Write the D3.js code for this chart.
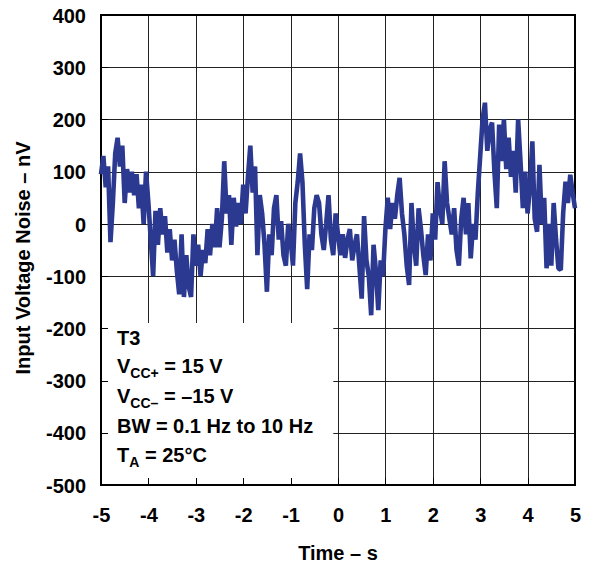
<!DOCTYPE html>
<html>
<head>
<meta charset="utf-8">
<script src="https://cdn.jsdelivr.net/npm/d3@7"></script>
<style>
  body { margin: 0; background: #fff; }
  svg text { font-family: "Liberation Sans", Arial, Helvetica, sans-serif; font-weight: bold; fill: #000; }
</style>
</head>
<body>
<svg id="chart" width="592" height="567"></svg>
<script>
const noiseValues = [
  95, 130, 70, 110, -35, 40, 135, 165, 110, 150, 40, 105, 60, 100, 55, 95, 30, 75, 0, 100,
  40, -30, -100, 25, -40, 30, -20, 15, -55, -10, -70, -30, -90, -135,
  -20, -140, -60, -120, -140, -20, -80, -40, -100, -50, -75, -10, -60, 0, -45, 30, -45, 10,
  120, 20, 55, -40, 50, -5, 40, 0, 75, 20, 90, 150, 60, 110, -60, 55,
  20, -40, -130, -20, -60, 30, 55, -30, 5, -60, -80, 0, -30, -80, 40, 80, 135, 80, -40,
  -125, -20, -50, 30, 55, 40, -20, -50, 0, 55, -30, -60, 20, -20,
  -60, -20, -65, -30, -10, -70, -40, -20, -80, -143, 15, -70, -100, -175, -40, -90, -165,
  -70, -100, -10, 50, -10, 40, 10, 55, 88, 20, -20, -80, -117, 40, -40, -80, 30,
  -10, -60, -98, -20, -70, 20, -30, 80, 30, 0, 120, 40, 10, -20, 30, -50, -80, 10, 50,
  -20, 40, -66, 0, -30, 60, 130, 200, 232, 140, 180, 194, 100, 30,
  190, 120, 200, 105, 165, 90, 140, 60, 200, 120, 30, 100, 20, 70, 158, 10, -15, 113, 0,
  50, -85, 0, -80, 40, -30, -85, -88, 20, 81, 40, 94, 60, 30
];
const sampleStep = 0.05;
const xTicks = [-5, -4, -3, -2, -1, 0, 1, 2, 3, 4, 5];
const yTicks = [-500, -400, -300, -200, -100, 0, 100, 200, 300, 400];
const legendLines = [
  { main: "T3", sub: "", rest: "" },
  { main: "V", sub: "CC+", rest: " = 15 V" },
  { main: "V", sub: "CC\u2013", rest: " = \u201315 V" },
  { main: "BW = 0.1 Hz to 10 Hz", sub: "", rest: "" },
  { main: "T", sub: "A", rest: " = 25\u00B0C" }
];

const svg = d3.select("#chart");
const plotL = 101, plotR = 575, plotT = 15, plotB = 485;
const x = d3.scaleLinear().domain([-5, 5]).range([plotL, plotR]);
const y = d3.scaleLinear().domain([-500, 400]).range([plotB, plotT]);
const noise = noiseValues.map((v, i) => ({ t: -5 + i * sampleStep, v }));

// grid
const grid = svg.append("g").attr("stroke", "#222").attr("stroke-width", 1).attr("shape-rendering", "crispEdges");
grid.selectAll(".gx").data(xTicks).join("line")
  .attr("x1", d => Math.round(x(d)) + 0.5).attr("x2", d => Math.round(x(d)) + 0.5)
  .attr("y1", plotT).attr("y2", plotB);
grid.selectAll(".gy").data(yTicks).join("line")
  .attr("x1", plotL).attr("x2", plotR)
  .attr("y1", d => Math.round(y(d)) + 0.5).attr("y2", d => Math.round(y(d)) + 0.5);

// legend box blanks the grid
svg.append("rect")
  .attr("x", plotL + 1).attr("y", 323)
  .attr("width", x(-0.1) - plotL - 1).attr("height", plotB - 323 - 1)
  .attr("fill", "#fff");

// inner ticks
const ticks = svg.append("g").attr("stroke", "#000").attr("stroke-width", 1).attr("shape-rendering", "crispEdges");
ticks.selectAll(".tx").data(xTicks).join("line")
  .attr("x1", d => Math.round(x(d)) + 0.5).attr("x2", d => Math.round(x(d)) + 0.5)
  .attr("y1", plotB - 7).attr("y2", plotB);
ticks.selectAll(".ty").data(yTicks).join("line")
  .attr("x1", plotL).attr("x2", plotL + 7)
  .attr("y1", d => Math.round(y(d)) + 0.5).attr("y2", d => Math.round(y(d)) + 0.5);

// frame
svg.append("rect")
  .attr("x", plotL).attr("y", plotT).attr("width", plotR - plotL).attr("height", plotB - plotT)
  .attr("fill", "none").attr("stroke", "#000").attr("stroke-width", 2);

// trace
svg.append("path").datum(noise)
  .attr("fill", "none").attr("stroke", "#2b3990").attr("stroke-width", 4.6)
  .attr("stroke-linejoin", "bevel")
  .attr("d", d3.line().x(d => x(d.t)).y(d => y(d.v)));

// axis labels
const yAxis = svg.append("g").attr("transform", `translate(${plotL},0)`)
  .call(d3.axisLeft(y).tickValues(yTicks).tickSize(0).tickPadding(15).tickFormat(d => String(d)));
yAxis.select(".domain").remove();
yAxis.selectAll("text").attr("font-size", 20).attr("dy", "0.36em");

const xAxis = svg.append("g").attr("transform", `translate(0,${plotB})`)
  .call(d3.axisBottom(x).tickValues(xTicks).tickSize(0).tickPadding(23).tickFormat(d => String(d)));
xAxis.select(".domain").remove();
xAxis.selectAll("text").attr("font-size", 20).attr("dy", "0.71em");

svg.append("text").attr("x", (plotL + plotR) / 2).attr("y", 560)
  .attr("text-anchor", "middle").attr("font-size", 20).text("Time \u2013 s");
svg.append("text").attr("transform", "translate(30,258) rotate(-90)")
  .attr("text-anchor", "middle").attr("font-size", 20).text("Input Voltage Noise \u2013 nV");

// legend
const legendY = [345, 373, 403, 433, 462];
const legend = svg.append("g");
legendLines.forEach((l, i) => {
  const t = legend.append("text").attr("x", 117).attr("y", legendY[i]).attr("font-size", 20);
  t.append("tspan").text(l.main);
  if (l.sub) {
    t.append("tspan").attr("font-size", 14).attr("dy", 5).text(l.sub);
    t.append("tspan").attr("dy", -5).text(l.rest);
  }
});
</script>
</body>
</html>
